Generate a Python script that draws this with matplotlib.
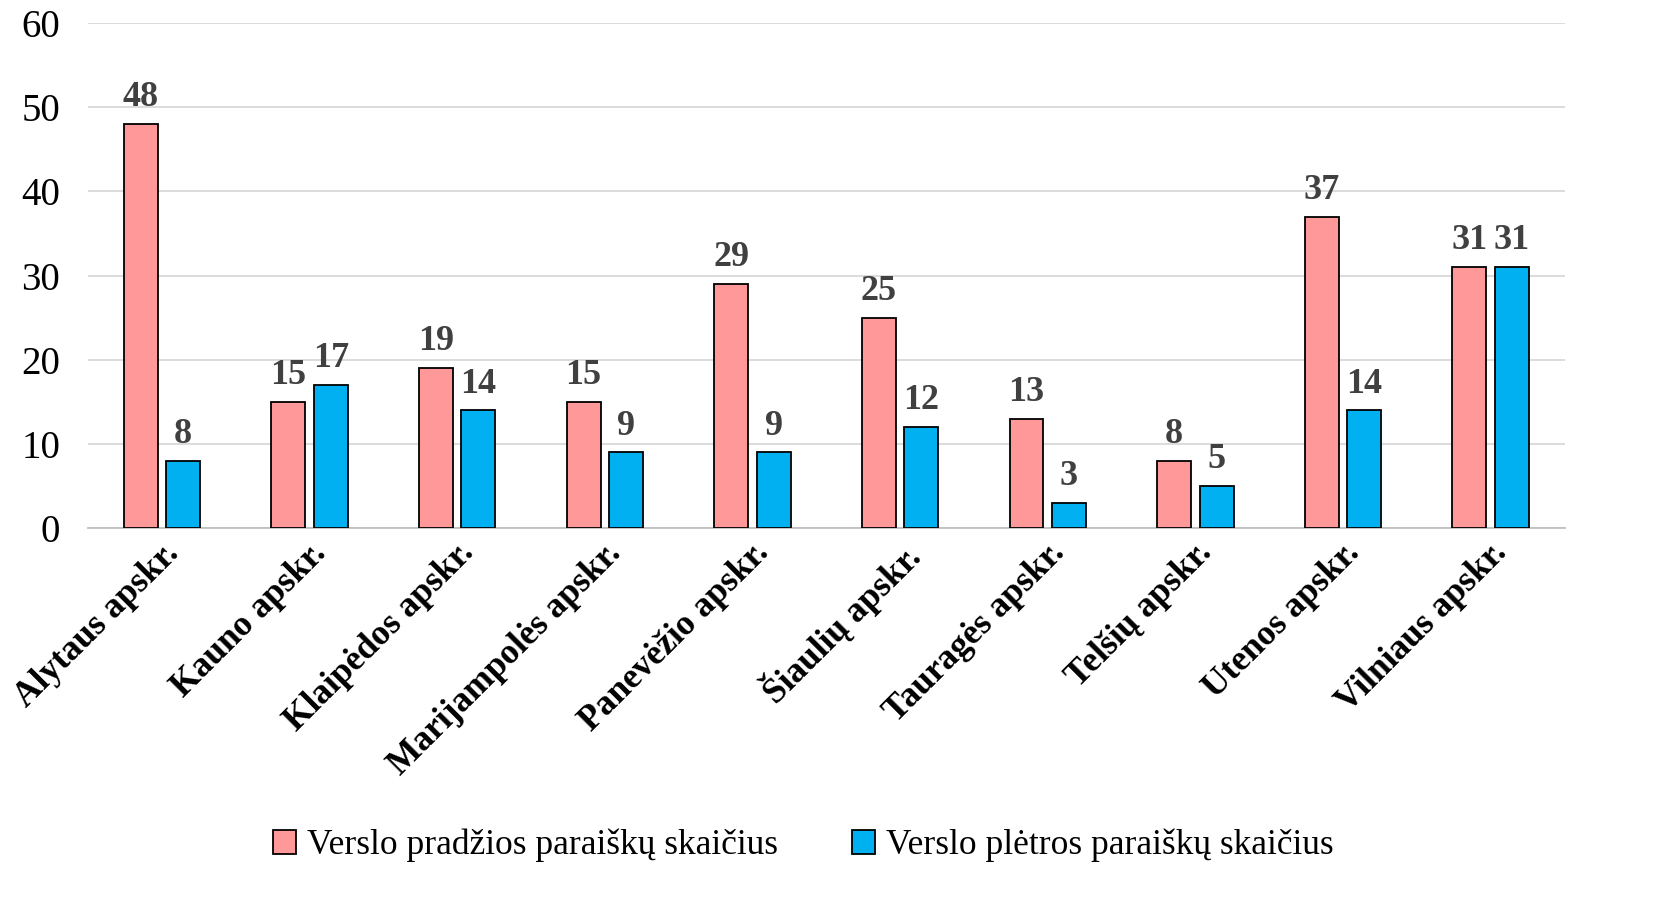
import matplotlib.pyplot as plt
import numpy as np

plt.rcParams['font.family'] = ['Liberation Serif', 'DejaVu Serif']

regions = ['Alytaus apskr.', 'Kauno apskr.', 'Klaipėdos apskr.', 'Marijampolės apskr.',
           'Panevėžio apskr.', 'Šiaulių apskr.', 'Tauragės apskr.', 'Telšių apskr.',
           'Utenos apskr.', 'Vilniaus apskr.']
pradzios = [48, 15, 19, 15, 29, 25, 13, 8, 37, 31]
pletros = [8, 17, 14, 9, 9, 12, 3, 5, 14, 31]
series_names = ['Verslo pradžios paraiškų skaičius', 'Verslo plėtros paraiškų skaičius']

fig = plt.figure(figsize=(16.74, 9.17), dpi=100)
ax = fig.add_axes([0.0526, 0.424, 0.882, 0.551])

x = np.arange(len(regions))
w = 0.23
off = 0.144
b1 = ax.bar(x - off, pradzios, w, color='#FF9999', edgecolor='black', linewidth=1.3,
            label=series_names[0], zorder=3)
b2 = ax.bar(x + off, pletros, w, color='#00B0F0', edgecolor='black', linewidth=1.3,
            label=series_names[1], zorder=3)
for bars in (b1, b2):
    ax.bar_label(bars, padding=7, fontsize=26, fontweight='bold', color='#404040')

ax.set_ylim(0, 60)
ax.set_xlim(-0.5, len(regions) - 0.5)
ax.set_yticks(range(0, 61, 10))
ax.yaxis.grid(True, color='#D9D9D9', linewidth=1.3, zorder=0)
ax.set_axisbelow(True)
for s in ['top', 'right', 'left']:
    ax.spines[s].set_visible(False)
ax.spines['bottom'].set_color('#BFBFBF')
ax.spines['bottom'].set_linewidth(1.3)
ax.tick_params(axis='y', length=0, labelsize=28, pad=20)
ax.tick_params(axis='x', length=0, pad=6)
ax.set_xticks(x)
ax.set_xticklabels(regions, rotation=45, ha='right', va='top', rotation_mode='anchor',
                   fontsize=25.5, fontweight='bold')

fig.legend(loc='lower center', bbox_to_anchor=(0.48, 0.025), ncol=2, frameon=False,
           fontsize=25.5, handlelength=0.65, handleheight=0.65, handletextpad=0.3,
           columnspacing=2.1)

fig.savefig('out.png', dpi=100)
